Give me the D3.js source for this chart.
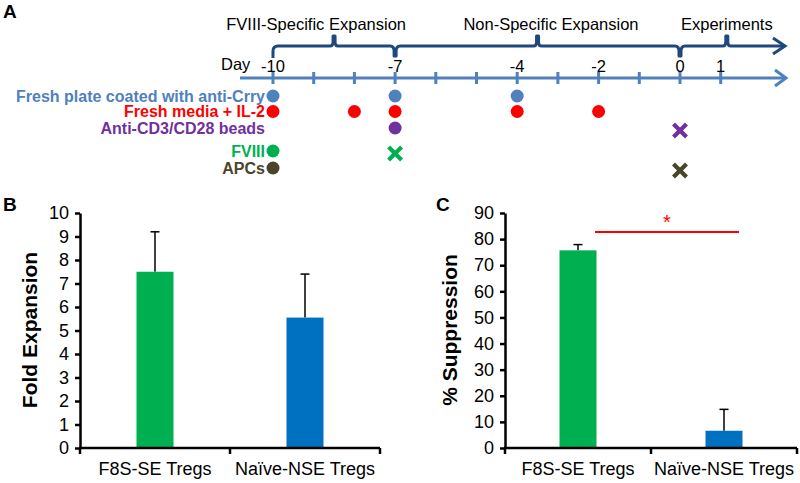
<!DOCTYPE html>
<html><head><meta charset="utf-8">
<script src="https://cdn.jsdelivr.net/npm/d3@7/dist/d3.min.js"></script>
<style>body{margin:0;background:#fff}svg{display:block;font-family:"Liberation Sans",Arial,sans-serif}</style>
</head><body><svg id="c" width="800" height="483"></svg>
<script>
// ---- Panel A data ----
const allDays = [-10,-9,-8,-7,-6,-5,-4,-3,-2,-1,0,1];
const dayLabels = [-10,-7,-4,-2,0,1];
const phaseNames = ["FVIII-Specific Expansion","Non-Specific Expansion","Experiments"];
const phaseTextDay = [-8.94,-3.17,1.15];
const phasePeakDay = [-8.5,-3.5,1.15];
const braceDips = [-10,-7,0];
const rowNames = ["Fresh plate coated with anti-Crry","Fresh media + IL-2","Anti-CD3/CD28 beads","FVIII","APCs"];
const rowColors = ["#4F81BD","#FF0000","#7030A0","#00B050","#4A452A"];
const rowCircles = [[-10,-7,-4],[-10,-8,-7,-4,-2],[-7],[-10],[-10]];
const rowCrosses = [[],[],[0],[-7],[0]];
// ---- Panel B/C data ----
const groups = ["F8S-SE Tregs","Naïve-NSE Tregs"];
const foldExp = [7.5,5.55];
const foldErr = [1.7,1.85];
const suppression = [75.7,6.6];
const suppErr = [2.2,8.2];
const barColors = ["#00B050","#0070C0"];

const svg = d3.select("#c");
const F = '"Liberation Sans",Arial,sans-serif';

// ===== Panel A =====
svg.append("text").attr("x",3).attr("y",18).attr("font-size",19).attr("font-weight","bold").text("A");
const xd = d3.scaleLinear().domain([-10,0]).range([273,680]);
const axY = 78;
const tl = svg.append("g");
tl.append("line").attr("x1",240).attr("x2",785).attr("y1",axY).attr("y2",axY)
  .attr("stroke","#4F81BD").attr("stroke-width",3);
tl.append("path").attr("d",`M775,${axY-8}L786,${axY}L775,${axY+8}`).attr("fill","none")
  .attr("stroke","#4F81BD").attr("stroke-width",3);
tl.selectAll(".tk").data(allDays).join("line")
  .attr("x1",d=>xd(d)).attr("x2",d=>xd(d)).attr("y1",axY-6).attr("y2",axY+6)
  .attr("stroke","#4F81BD").attr("stroke-width",3);
tl.selectAll(".tl").data(dayLabels).join("text")
  .attr("x",d=>xd(d)).attr("y",72).attr("text-anchor","middle").attr("font-size",16.5).text(d=>d);
tl.append("text").attr("x",221).attr("y",70).attr("font-size",16.5).text("Day");

// brace
const bY = 46, bc = "#1F497D";
let p = d3.path();
const x0 = xd(-10);
p.moveTo(x0, 58); p.lineTo(x0, 51); p.quadraticCurveTo(x0, bY, x0+5, bY);
function peak(px){ p.lineTo(px-4,bY); p.quadraticCurveTo(px-1,bY,px-1,bY-4); p.lineTo(px-1,bY-10); p.lineTo(px+1,bY-10); p.lineTo(px+1,bY-4); p.quadraticCurveTo(px+1,bY,px+4,bY); }
function dip(px){ p.lineTo(px-5,bY); p.quadraticCurveTo(px-1,bY,px-1,bY+5); p.lineTo(px-1,bY+10); p.lineTo(px+1,bY+10); p.lineTo(px+1,bY+5); p.quadraticCurveTo(px+1,bY,px+5,bY); }
peak(xd(phasePeakDay[0])); dip(xd(braceDips[1]));
peak(xd(phasePeakDay[1])); dip(xd(braceDips[2]));
peak(xd(phasePeakDay[2])); p.lineTo(784,bY);
svg.append("path").attr("d",p.toString()).attr("fill","none").attr("stroke",bc).attr("stroke-width",3).attr("stroke-linejoin","round");
svg.append("path").attr("d",`M773,${bY-8}L785,${bY}L773,${bY+8}`).attr("fill","none").attr("stroke",bc).attr("stroke-width",3);
svg.selectAll(".ph").data(phaseNames).join("text")
  .attr("x",(d,i)=>xd(phaseTextDay[i])).attr("y",30).attr("text-anchor","middle").attr("font-size",16.5).text(d=>d);

// rows
const rowY = [96,111.5,128,151,168];
const rows = svg.selectAll(".row").data(rowNames).join("g");
rows.append("text").attr("x",265).attr("y",(d,i)=>rowY[i]).attr("dy","0.36em")
  .attr("text-anchor","end").attr("font-size",16).attr("font-weight","bold")
  .attr("fill",(d,i)=>rowColors[i]).text(d=>d);
rowNames.forEach((n,i)=>{
  svg.selectAll(".c"+i).data(rowCircles[i]).join("circle")
    .attr("cx",d=>xd(d)).attr("cy",rowY[i]).attr("r",6.5).attr("fill",rowColors[i]);
  const cr = svg.selectAll(".x"+i).data(rowCrosses[i]).join("g")
    .attr("transform",d=>`translate(${xd(d)},${rowY[i]+2.5})`);
  cr.append("path").attr("d","M-5,-5L5,5M5,-5L-5,5").attr("stroke",rowColors[i]).attr("stroke-width",4.2).attr("stroke-linecap","square");
});

// ===== Bar panels =====
function barPanel(o){
  const y = d3.scaleLinear().domain([0,o.max]).range([448,213]);
  const x = d3.scaleBand().domain(groups).range([o.x0,o.x1]);
  const g = svg.append("g");
  g.append("text").attr("x",o.lx).attr("y",211).attr("font-size",19).attr("font-weight","bold").text(o.letter);
  const bw = 37;
  g.selectAll(".eb").data(groups).join("line")
    .attr("x1",d=>x(d)+x.bandwidth()/2).attr("x2",d=>x(d)+x.bandwidth()/2)
    .attr("y1",(d,i)=>y(o.vals[i])).attr("y2",(d,i)=>y(o.vals[i]+o.errs[i]))
    .attr("stroke","#000").attr("stroke-width",1.5);
  g.selectAll(".ec").data(groups).join("line")
    .attr("x1",d=>x(d)+x.bandwidth()/2-4.5).attr("x2",d=>x(d)+x.bandwidth()/2+4.5)
    .attr("y1",(d,i)=>y(o.vals[i]+o.errs[i])).attr("y2",(d,i)=>y(o.vals[i]+o.errs[i]))
    .attr("stroke","#000").attr("stroke-width",1.5);
  g.selectAll(".bar").data(groups).join("rect")
    .attr("x",d=>x(d)+x.bandwidth()/2-bw/2).attr("width",bw)
    .attr("y",(d,i)=>y(o.vals[i])).attr("height",(d,i)=>y(0)-y(o.vals[i]))
    .attr("fill",(d,i)=>barColors[i]);
  const ya = g.append("g").attr("transform",`translate(${o.x0},0)`)
    .call(d3.axisLeft(y).tickValues(d3.range(0,o.max+0.001,o.step)).tickSize(5).tickSizeOuter(0).tickPadding(6));
  ya.select(".domain").attr("stroke-width",2.5);
  ya.selectAll(".tick line").attr("stroke-width",2.5);
  ya.selectAll("text").attr("font-size",18).attr("font-family",F).attr("fill","#000");
  const xa = g.append("g").attr("transform",`translate(0,448)`)
    .call(d3.axisBottom(x).tickSize(0).tickPadding(14));
  xa.select(".domain").attr("stroke-width",2.5).attr("d",`M${o.x0-1},0H${o.x1}`);
  xa.selectAll("text").attr("font-size",18).attr("font-family",F).attr("fill","#000");
  const bounds = [o.x0, ...groups.slice(1).map(d=>x(d)), o.x1];
  g.selectAll(".bt").data(bounds).join("line").attr("x1",d=>d).attr("x2",d=>d)
    .attr("y1",448).attr("y2",454).attr("stroke","#000").attr("stroke-width",2.5);
  g.append("text").attr("transform",`translate(${o.tx},330) rotate(-90)`).attr("text-anchor","middle")
    .attr("font-size",21).attr("font-weight","bold").text(o.title);
  return {x,y,g};
}
barPanel({x0:80,x1:380,max:10,step:1,vals:foldExp,errs:foldErr,letter:"B",lx:3,title:"Fold Expansion",tx:37});
const c = barPanel({x0:505,x1:797,max:90,step:10,vals:suppression,errs:suppErr,letter:"C",lx:436,title:"% Suppression",tx:457});
const sx1 = c.x(groups[0])+c.x.bandwidth()/2+17, sx2 = c.x(groups[1])+c.x.bandwidth()/2+15;
c.g.append("line").attr("x1",sx1).attr("x2",sx2).attr("y1",232).attr("y2",232).attr("stroke","#FF0000").attr("stroke-width",2);
c.g.append("text").attr("x",(sx1+sx2)/2).attr("y",229).attr("text-anchor","middle").attr("font-size",20).attr("fill","#FF0000").text("*");
</script></body></html>
